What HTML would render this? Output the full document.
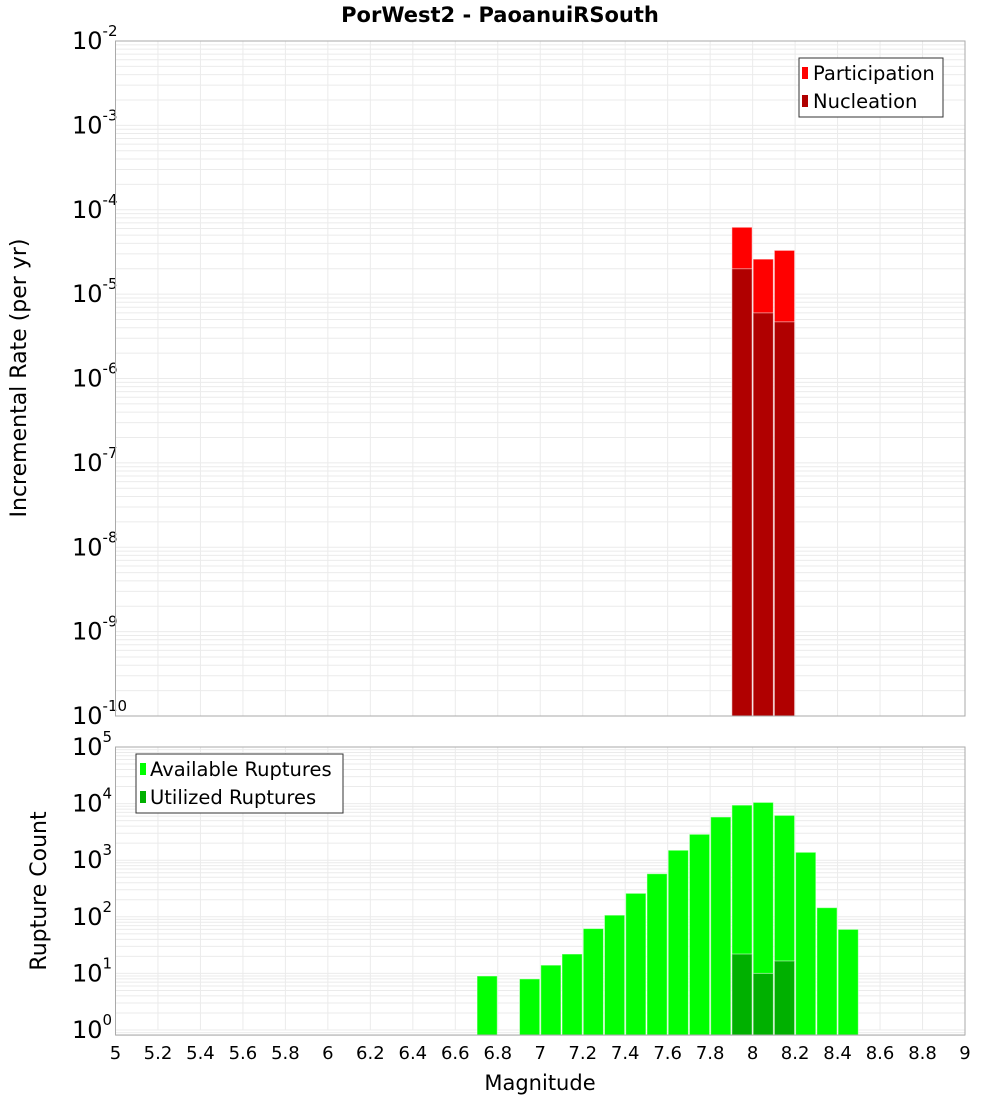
<!DOCTYPE html>
<html><head><meta charset="utf-8"><style>
body{margin:0;background:#fff;}
svg{display:block;font-family:"DejaVu Sans","Liberation Sans",sans-serif;}
</style></head><body>
<svg id="chart" width="1000" height="1100">
<text x="500" y="22" text-anchor="middle" font-weight="bold" font-size="21">PorWest2 - PaoanuiRSouth</text>
<g id="topPlot"></g>
<g id="botPlot"></g>
<text transform="translate(26,378) rotate(-90)" text-anchor="middle" font-size="22">Incremental Rate (per yr)</text>
<text transform="translate(46,891) rotate(-90)" text-anchor="middle" font-size="22">Rupture Count</text>
<text x="540" y="1090" text-anchor="middle" font-size="21">Magnitude</text>
<g>
<rect x="799" y="58" width="144" height="59" fill="#fff" stroke="#333"/>
<rect x="802" y="67" width="6" height="12" fill="#ff0000"/>
<text x="813" y="80" font-size="19.5">Participation</text>
<rect x="802" y="95" width="6" height="12" fill="#b00000"/>
<text x="813" y="108" font-size="19.5">Nucleation</text>
</g>
<g>
<rect x="136" y="754" width="207" height="59" fill="#fff" stroke="#333"/>
<rect x="140" y="763" width="6" height="12" fill="#00ff00"/>
<text x="150" y="776" font-size="19.5">Available Ruptures</text>
<rect x="140" y="791" width="6" height="12" fill="#00b000"/>
<text x="150" y="804" font-size="19.5">Utilized Ruptures</text>
</g>
</svg>
<script>
const rateMags=[7.95,8.05,8.15];
const participation=[6.2e-5,2.6e-5,3.3e-5];
const nucleation=[2.0e-5,6.0e-6,4.7e-6];
const countMags=[6.75,6.95,7.05,7.15,7.25,7.35,7.45,7.55,7.65,7.75,7.85,7.95,8.05,8.15,8.25,8.35,8.45];
const available=[9,8,14,22,62,107,260,577,1500,2870,5800,9400,10500,6200,1380,145,60];
const utilMags=[7.95,8.05,8.15];
const utilized=[22,10,16.6];
const xTicks=[5,5.2,5.4,5.6,5.8,6,6.2,6.4,6.6,6.8,7,7.2,7.4,7.6,7.8,8,8.2,8.4,8.6,8.8,9];
const topExps=[-2,-3,-4,-5,-6,-7,-8,-9,-10];
const botExps=[5,4,3,2,1,0];

const NS='http://www.w3.org/2000/svg';
const X0=115.5,X1=965;
function xs(m){return X0+(m-5)/4*(X1-X0);}
function mk(tag,attrs,parent){const e=document.createElementNS(NS,tag);for(const k in attrs)e.setAttribute(k,attrs[k]);parent.appendChild(e);return e;}

function panel(g,yTop,yBot,logTop,logBot,logMinDraw,exps,name){
  const dec=(yBot-yTop)/(logTop-logBot);
  const ys=v=>yTop+(logTop-Math.log10(v))*dec;
  const r=mk('rect',{x:X0,y:yTop,width:X1-X0,height:yBot-yTop,fill:'#fff'},g);
  
  
  for(let e=Math.floor(logMinDraw);e<logTop;e++){
    for(let k=1;k<10;k++){
      const v=k*Math.pow(10,e);const y=ys(v);
      if(y<yTop-0.1||y>yBot+6)continue;
      const l=mk('line',{x1:X0,x2:X1,y1:y,y2:y,stroke:'#ebebeb','stroke-width':1},g);
      
      
    }
  }
  xTicks.forEach(t=>{
    const l=mk('line',{x1:xs(t),x2:xs(t),y1:yTop,y2:yBot,stroke:'#ebebeb','stroke-width':1},g);
    
    
  });
  exps.forEach(e=>{
    const y=ys(Math.pow(10,e));
    const t=mk('text',{x:72,y:y+8,'font-size':24},g);
    
    
    t.textContent='10';
    const s=mk('tspan',{dy:-13,'font-size':15},t);
    s.textContent=String(e);
  });
  return ys;
}

function bar(g,m,v,ys,yBot,fill,name){
  const y=ys(v);
  const b=mk('rect',{x:xs(m-0.05)+0.5,y:y,width:xs(m+0.05)-xs(m-0.05)-1,height:yBot-y,fill:fill,stroke:'#fff','stroke-opacity':0.5,'stroke-width':1},g);
  
  
}

const topG=document.getElementById('topPlot');
const ysT=panel(topG,41,716,-2,-10,-10,topExps,'rate');
rateMags.forEach((m,i)=>bar(topG,m,participation[i],ysT,716,'#ff0000','participation-bar'));
rateMags.forEach((m,i)=>bar(topG,m,nucleation[i],ysT,716,'#b00000','nucleation-bar'));
const f1=mk('rect',{x:X0,y:41,width:X1-X0,height:675,fill:'none',stroke:'#aaa'},topG);



const botG=document.getElementById('botPlot');
const ysB=panel(botG,747,1030,5,0,-1,botExps,'count');
countMags.forEach((m,i)=>bar(botG,m,available[i],ysB,1035,'#00ff00','available-bar'));
utilMags.forEach((m,i)=>bar(botG,m,utilized[i],ysB,1035,'#00b000','utilized-bar'));
const f2=mk('rect',{x:X0,y:747,width:X1-X0,height:288,fill:'none',stroke:'#aaa'},botG);


xTicks.forEach(t=>{
  const tx=mk('text',{x:xs(t),y:1059,'text-anchor':'middle','font-size':18},botG);
  
  
  tx.textContent=String(t);
});
</script>
</body></html>
